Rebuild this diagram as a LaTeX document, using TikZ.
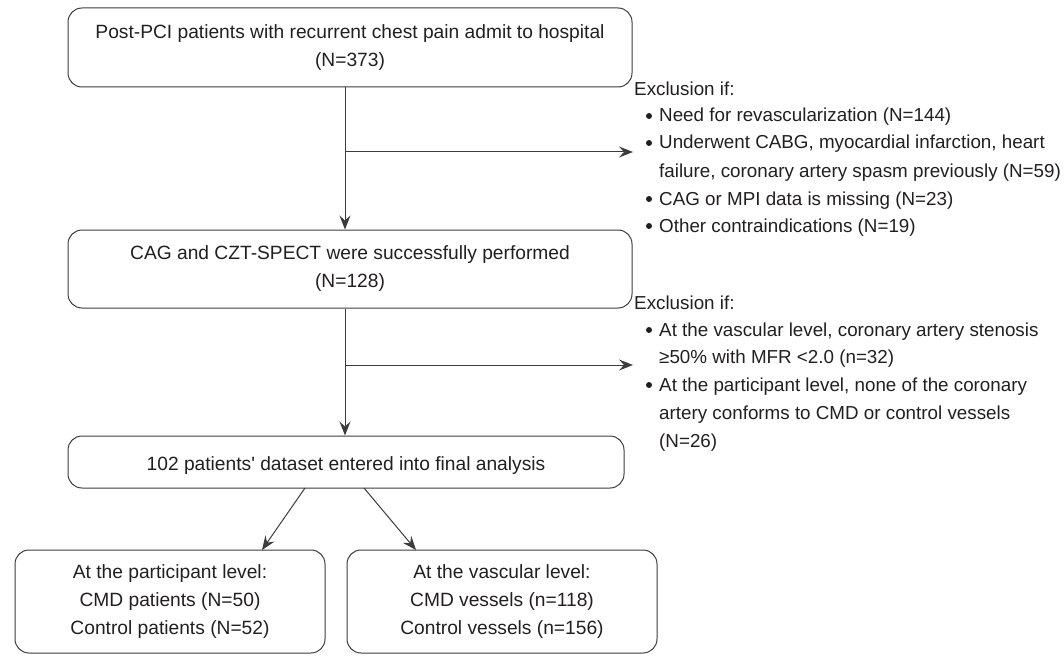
\documentclass[tikz,border=0pt]{standalone}
\usepackage{fontspec}
\setmainfont{Liberation Sans}
\usetikzlibrary{arrows.meta}
\definecolor{ink}{HTML}{231F20}
\definecolor{linec}{HTML}{3C3C3C}
\begin{document}
\begin{tikzpicture}[x=1pt,y=-1pt,
  every node/.style={text=ink,font=\fontsize{18.8}{28}\selectfont,inner sep=0pt},
  box/.style={draw=linec,line width=1pt,rounded corners=14pt,align=center,
    font=\fontsize{19.2}{28}\selectfont,execute at begin node={\rule{0pt}{20pt}}},
  conn/.style={draw=linec,line width=1pt,-{Stealth[length=14pt,width=11pt,inset=5pt]}},
  txt/.style={anchor=base west},
  bul/.style={circle,fill=ink,minimum size=6pt}]
\useasboundingbox (0,0) rectangle (1064,655);
% main boxes
\node[box,minimum width=564pt,minimum height=79pt] (b1) at (350,47.5)
  {Post-PCI patients with recurrent chest pain admit to hospital\\(N=373)};
\node[box,minimum width=564pt,minimum height=78pt] (b2) at (350,269)
  {CAG and CZT-SPECT were successfully performed\\(N=128)};
\node[box,minimum width=556pt,minimum height=52pt] (b3) at (346,462)
  {102 patients\textquotesingle\ dataset entered into final analysis};
\node[box,minimum width=310pt,minimum height=103pt] (b4) at (170,601.5)
  {At the participant level:\\CMD patients (N=50)\\Control patients (N=52)};
\node[box,minimum width=310pt,minimum height=103pt] (b5) at (502,601.5)
  {At the vascular level:\\CMD vessels (n=118)\\Control vessels (n=156)};
% exclusion 1
\node[txt] (e1h) at (634,96) {Exclusion if:};
\node[bul] (e1b1) at (649,116) {};
\node[txt] (e1t1) at (659,122) {Need for revascularization (N=144)};
\node[bul] (e1b2) at (649,143) {};
\node[txt] (e1t2) at (659,149) {Underwent CABG, myocardial infarction, heart};
\node[txt] (e1t2b) at (659,177) {failure, coronary artery spasm previously (N=59)};
\node[bul] (e1b3) at (649,199) {};
\node[txt] (e1t3) at (659,205) {CAG or MPI data is missing (N=23)};
\node[bul] (e1b4) at (649,226) {};
\node[txt] (e1t4) at (659,232) {Other contraindications (N=19)};
% exclusion 2
\node[txt] (e2h) at (634,309) {Exclusion if:};
\node[bul] (e2b1) at (649,330) {};
\node[txt] (e2t1) at (659,336) {At the vascular level, coronary artery stenosis};
\node[txt] (e2t1b) at (659,363) {≥50\% with MFR <2.0 (n=32)};
\node[bul] (e2b2) at (649,385) {};
\node[txt] (e2t2) at (659,391) {At the participant level, none of the coronary};
\node[txt] (e2t2b) at (659,419) {artery conforms to CMD or control vessels};
\node[txt] (e2t2c) at (659,447) {(N=26)};
% connectors
\coordinate (j1) at (345,152);
\coordinate (k1) at (633,152);
\coordinate (j2) at (345,365);
\coordinate (k2) at (633,365);
\draw[conn] (b1.south -| j1) -- (b2.north -| j1);
\draw[conn] (j1) -- (k1);
\draw[conn] (b2.south -| j2) -- (b3.north -| j2);
\draw[conn] (j2) -- (k2);
\coordinate (s1) at (305,488);
\coordinate (s2) at (364,488);
\draw[conn] (s1) -- (262,550);
\draw[conn] (s2) -- (416,550);
\end{tikzpicture}
\end{document}
